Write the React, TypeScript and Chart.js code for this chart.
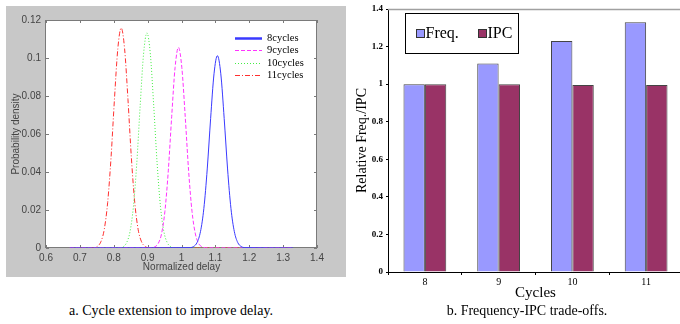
import React, { useEffect, useRef } from "react";
import { Chart, registerables } from "chart.js";

Chart.register(...registerables);

// ---------- Left chart data (probability density vs normalized delay) ----------
const delayTickLabels = ["0.6", "0.7", "0.8", "0.9", "1", "1.1", "1.2", "1.3", "1.4"];
const densityTickLabels = ["0", "0.02", "0.04", "0.06", "0.08", "0.1", "0.12"];

const x8 = [0.67, 1.026, 1.036, 1.046, 1.056, 1.066, 1.076, 1.086, 1.096, 1.106, 1.116, 1.126, 1.136, 1.146, 1.156, 1.166, 1.176, 1.186, 1.33];
const y8 = [0, 0.0002, 0.0008, 0.0029, 0.0086, 0.0208, 0.0416, 0.0682, 0.0917, 0.1012, 0.0917, 0.0682, 0.0416, 0.0208, 0.0086, 0.0029, 0.0008, 0.0002, 0];

const x9 = [0.67, 0.911, 0.921, 0.931, 0.941, 0.951, 0.961, 0.971, 0.981, 0.991, 1.001, 1.011, 1.021, 1.031, 1.041, 1.051, 1.061, 1.071, 1.33];
const y9 = [0, 0.0001, 0.0006, 0.0023, 0.0074, 0.0193, 0.0406, 0.0691, 0.0949, 0.1056, 0.0949, 0.0691, 0.0406, 0.0193, 0.0074, 0.0023, 0.0006, 0.0001, 0];

const x10 = [0.67, 0.818, 0.828, 0.838, 0.848, 0.858, 0.868, 0.878, 0.888, 0.898, 0.908, 0.918, 0.928, 0.938, 0.948, 0.958, 0.968, 0.978, 1.33];
const y10 = [0, 0.0001, 0.0007, 0.0028, 0.0086, 0.0217, 0.0447, 0.0749, 0.1021, 0.1132, 0.1021, 0.0749, 0.0447, 0.0217, 0.0086, 0.0028, 0.0007, 0.0001, 0];

const x11 = [0.67, 0.742, 0.752, 0.762, 0.772, 0.782, 0.792, 0.802, 0.812, 0.822, 0.832, 0.842, 0.852, 0.862, 0.872, 0.882, 0.892, 0.902, 1.33];
const y11 = [0, 0.0002, 0.0009, 0.0033, 0.0098, 0.0239, 0.0476, 0.0781, 0.1049, 0.1158, 0.1049, 0.0781, 0.0476, 0.0239, 0.0098, 0.0033, 0.0009, 0.0002, 0];

const seriesNames = ["8cycles", "9cycles", "10cycles", "11cycles"];

// ---------- Right chart data (relative Freq / IPC) ----------
const cycles = ["8", "9", "10", "11"];
const freqValues = [1.0, 1.11, 1.23, 1.33];
const ipcValues = [1.0, 1.0, 0.995, 0.995];
const relTickLabels = ["0", "0.2", "0.4", "0.6", "0.8", "1", "1.2", "1.4"];

const SANS = '"Liberation Sans", Arial, sans-serif';
const SERIF = '"Liberation Serif", "Times New Roman", serif';

const zip = (xs: number[], ys: number[]) => xs.map((x, i) => ({ x, y: ys[i] }));

const leftBoxPlugin = {
  id: "leftBox",
  beforeDraw(chart: any) {
    const { ctx, chartArea: a } = chart;
    ctx.save();
    ctx.fillStyle = "#ffffff";
    ctx.fillRect(a.left, a.top, a.right - a.left, a.bottom - a.top);
    ctx.restore();
  },
  beforeDatasetsDraw(chart: any) {
    const { ctx, chartArea: a, scales } = chart;
    ctx.save();
    ctx.strokeStyle = "#7a7a7a";
    ctx.lineWidth = 1;
    ctx.strokeRect(Math.round(a.left) - 0.5, Math.round(a.top) + 0.5, Math.round(a.right - a.left), Math.round(a.bottom - a.top) - 1);
    ctx.beginPath();
    scales.x.ticks.forEach((t: any) => {
      const px = Math.round(scales.x.getPixelForValue(t.value)) + 0.5;
      ctx.moveTo(px, a.bottom);
      ctx.lineTo(px, a.bottom - 3);
      ctx.moveTo(px, a.top);
      ctx.lineTo(px, a.top + 3);
    });
    scales.y.ticks.forEach((t: any) => {
      const py = Math.round(scales.y.getPixelForValue(t.value)) + 0.5;
      ctx.moveTo(a.left, py);
      ctx.lineTo(a.left + 3, py);
      ctx.moveTo(a.right, py);
      ctx.lineTo(a.right - 3, py);
    });
    ctx.stroke();
    ctx.restore();
  },
  afterDraw(chart: any) {
    const { ctx, chartArea: a } = chart;
    ctx.save();
    const lx0 = a.left + 189;
    const lx1 = a.left + 216;
    const tx = a.left + 221;
    ctx.font = `10.5px ${SERIF}`;
    ctx.textBaseline = "middle";
    ctx.fillStyle = "#000";
    chart.data.datasets.forEach((ds: any, i: number) => {
      const y = Math.round(a.top + 18 + i * 12.4) + 0.5;
      ctx.beginPath();
      ctx.strokeStyle = ds.borderColor;
      ctx.lineWidth = i === 0 ? 2.5 : 1;
      ctx.setLineDash(ds.borderDash || []);
      ctx.moveTo(lx0, y);
      ctx.lineTo(lx1, y);
      ctx.stroke();
      ctx.setLineDash([]);
      ctx.fillText(ds.label, tx, y);
    });
    ctx.restore();
  },
};

const rightPlugin = {
  id: "rightDeco",
  afterDraw(chart: any) {
    const { ctx, chartArea: a } = chart;
    ctx.save();
    ctx.strokeStyle = "#a0a0a0";
    ctx.lineWidth = 1.5;
    ctx.beginPath();
    ctx.moveTo(a.left, Math.round(a.top) + 0.5);
    ctx.lineTo(a.right + 5, Math.round(a.top) + 0.5);
    ctx.stroke();

    const bx = Math.round(a.left + 17) + 0.5;
    const by = Math.round(a.top + 4) + 0.5;
    const bw = 113;
    const bh = 40;
    ctx.fillStyle = "#ffffff";
    ctx.fillRect(bx, by, bw, bh);
    ctx.strokeStyle = "#000";
    ctx.lineWidth = 1;
    ctx.strokeRect(bx, by, bw, bh);
    const cy = by + 20;
    const offsets = [11, 73];
    ctx.font = `16px ${SERIF}`;
    ctx.textBaseline = "middle";
    chart.data.datasets.forEach((ds: any, i: number) => {
      const sx = bx + offsets[i];
      ctx.fillStyle = ds.backgroundColor;
      ctx.fillRect(sx, cy - 4, 8, 8);
      ctx.strokeStyle = "#333";
      ctx.strokeRect(sx, cy - 4, 8, 8);
      ctx.fillStyle = "#000";
      ctx.fillText(ds.label, sx + 9, cy);
    });
    ctx.restore();
  },
};

export default function App() {
  const leftRef = useRef<HTMLCanvasElement>(null);
  const rightRef = useRef<HTMLCanvasElement>(null);

  useEffect(() => {
    const colors = ["#3a3aff", "#ff33ff", "#44ee44", "#ff3030"];
    const dashes = [[], [4, 2], [1, 2], [5, 2, 1, 2]];
    const xsAll = [x8, x9, x10, x11];
    const ysAll = [y8, y9, y10, y11];

    const left = new Chart(leftRef.current as HTMLCanvasElement, {
      type: "line",
      data: {
        datasets: seriesNames.map((name, i) => ({
          label: name,
          data: zip(xsAll[i], ysAll[i]),
          borderColor: colors[i],
          borderWidth: 1,
          borderDash: dashes[i],
          pointRadius: 0,
          fill: false,
          cubicInterpolationMode: "monotone" as const,
        })),
      },
      options: {
        animation: false,
        responsive: false,
        devicePixelRatio: 1,
        layout: { padding: { left: 0, top: 14, right: 29, bottom: 0 } },
        plugins: { legend: { display: false }, tooltip: { enabled: false } },
        scales: {
          x: {
            type: "linear",
            min: 0.6,
            max: 1.4,
            afterBuildTicks: (s: any) => {
              s.ticks = delayTickLabels.map((l) => ({ value: parseFloat(l) }));
            },
            ticks: {
              autoSkip: false,
              maxRotation: 0,
              padding: 4,
              color: "#444",
              font: { family: SANS, size: 10 },
              callback: (_v: any, i: number) => delayTickLabels[i],
            },
            grid: { display: false, drawTicks: false },
            border: { display: false },
            title: {
              display: true,
              text: "Normalized delay",
              color: "#444",
              font: { family: SANS, size: 10 },
              padding: { top: 0, bottom: 4 },
            },
            afterFit: (s: any) => {
              s.height = 29;
            },
          },
          y: {
            min: 0,
            max: 0.12,
            afterBuildTicks: (s: any) => {
              s.ticks = densityTickLabels.map((l) => ({ value: parseFloat(l) }));
            },
            ticks: {
              autoSkip: false,
              padding: 5,
              color: "#444",
              font: { family: SANS, size: 10 },
              callback: (_v: any, i: number) => densityTickLabels[i],
            },
            grid: { display: false, drawTicks: false },
            border: { display: false },
            title: {
              display: true,
              text: "Probability density",
              color: "#444",
              font: { family: SANS, size: 10 },
              padding: { top: 4, bottom: 0 },
            },
            afterFit: (s: any) => {
              s.width = 40;
            },
          },
        },
      },
      plugins: [leftBoxPlugin],
    });

    const right = new Chart(rightRef.current as HTMLCanvasElement, {
      type: "bar",
      data: {
        labels: cycles,
        datasets: [
          {
            label: "Freq.",
            data: freqValues,
            backgroundColor: "#9999ff",
            borderColor: "#444",
            borderWidth: 1,
            categoryPercentage: 0.58,
            barPercentage: 1.0,
          },
          {
            label: "IPC",
            data: ipcValues,
            backgroundColor: "#993366",
            borderColor: "#444",
            borderWidth: 1,
            categoryPercentage: 0.58,
            barPercentage: 1.0,
          },
        ],
      },
      options: {
        animation: false,
        responsive: false,
        devicePixelRatio: 1,
        layout: { padding: { left: 0, top: 9, right: 1, bottom: 0 } },
        plugins: { legend: { display: false }, tooltip: { enabled: false } },
        scales: {
          x: {
            ticks: {
              padding: 1,
              color: "#000",
              font: { family: SERIF, size: 10 },
            },
            grid: { drawOnChartArea: false, drawTicks: true, tickLength: 3, color: "#000", offset: true },
            border: { display: true, color: "#000", width: 1 },
            title: {
              display: true,
              text: "Cycles",
              color: "#000",
              font: { family: SERIF, size: 15 },
              padding: { top: 0, bottom: 22 },
            },
            afterFit: (s: any) => {
              s.height = 52;
            },
          },
          y: {
            min: 0,
            max: 1.4,
            afterBuildTicks: (s: any) => {
              s.ticks = relTickLabels.map((l) => ({ value: parseFloat(l) }));
            },
            ticks: {
              autoSkip: false,
              padding: 3,
              color: "#000",
              font: { family: SERIF, size: 9, weight: "bold" },
              callback: (_v: any, i: number) => relTickLabels[i],
            },
            grid: { drawOnChartArea: false, drawTicks: true, tickLength: 2, color: "#000" },
            border: { display: true, color: "#000", width: 1 },
            title: {
              display: true,
              text: "Relative Freq./IPC",
              color: "#000",
              font: { family: SERIF, size: 14 },
              padding: { top: 8, bottom: 0 },
            },
            afterFit: (s: any) => {
              s.width = 42;
            },
          },
        },
      },
      plugins: [rightPlugin],
    });

    return () => {
      left.destroy();
      right.destroy();
    };
  }, []);

  return (
    <div
      style={{
        position: "fixed",
        left: 0,
        top: 0,
        width: 680,
        height: 324,
        overflow: "hidden",
        background: "#ffffff",
      }}
    >
      <div style={{ position: "absolute", left: 6, top: 6, width: 340, height: 271, background: "#c8c8c8" }}>
        <canvas ref={leftRef} width={340} height={271} style={{ display: "block", width: 340, height: 271 }} />
      </div>
      <canvas
        ref={rightRef}
        width={338}
        height={324}
        style={{ position: "absolute", left: 346, top: 0, display: "block", width: 338, height: 324 }}
      />
      <div
        style={{
          position: "absolute",
          left: 0,
          top: 303,
          width: 342,
          textAlign: "center",
          font: `14px ${SERIF}`,
          lineHeight: "16px",
          color: "#000",
          whiteSpace: "nowrap",
        }}
      >
        a. Cycle extension to improve delay.
      </div>
      <div
        style={{
          position: "absolute",
          left: 427,
          top: 303,
          width: 200,
          textAlign: "center",
          font: `14px ${SERIF}`,
          lineHeight: "16px",
          color: "#000",
          whiteSpace: "nowrap",
        }}
      >
        b. Frequency-IPC trade-offs.
      </div>
    </div>
  );
}
